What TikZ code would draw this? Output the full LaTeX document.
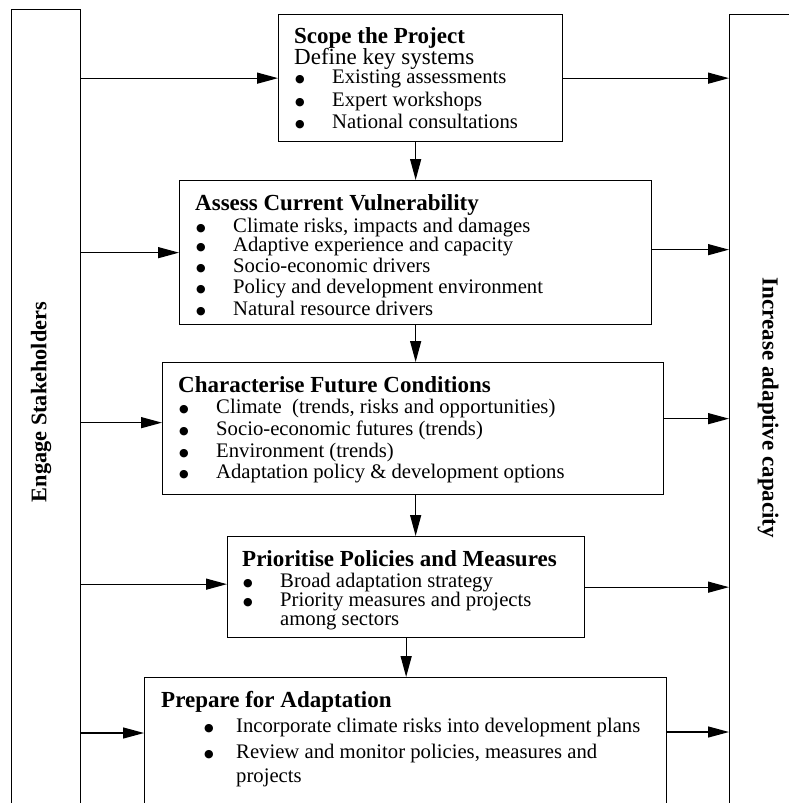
\documentclass[tikz,border=0pt]{standalone}
\usepackage{fontspec}
\setmainfont{Liberation Serif}
\newfontfamily\symfont{DejaVu Sans}
\usetikzlibrary{arrows.meta}
\newcommand\bulmark[1]{\makebox[#1][l]{\hspace{1pt}\raisebox{0.9pt}{\fontsize{11}{13}\symfont ●}}}
\begin{document}
\begin{tikzpicture}[x=1pt,y=-1pt,
  box/.style={draw, line width=1.3pt, rectangle, inner sep=0pt, anchor=north west},
  arr/.style={line width=1.3pt, -{Triangle[length=21pt,width=11pt]}},
  tt/.style={anchor=base west, inner sep=0pt, text height=15pt, text depth=3pt, font=\fontsize{23}{25}\selectfont\bfseries},
  side/.style={anchor=center, inner sep=0pt, font=\fontsize{22.3}{25}\selectfont\bfseries},
  df/.style={anchor=base west, inner sep=0pt, text height=15pt, text depth=4pt, font=\fontsize{23}{25}\selectfont},
  it/.style={anchor=base west, inner sep=0pt, text height=13pt, text depth=3pt, font=\fontsize{20.7}{23}\selectfont},
]
\useasboundingbox (0,0) rectangle (789,803);
\clip (0,0) rectangle (789,803);

% side bars
\node[box, minimum width=69pt, minimum height=840pt] (L) at (11,9) {};
\node[box, minimum width=100pt, minimum height=840pt] (R) at (729,14) {};
\node[side, rotate=90] (Llab) at (41,402) {Engage Stakeholders};
\node[side, rotate=-90, font=\fontsize{23}{25}\selectfont\bfseries] (Rlab) at (768,408) {Increase adaptive capacity};

% boxes
\node[box, minimum width=284pt, minimum height=127pt] (b1) at (278,14) {};
\node[box, minimum width=472pt, minimum height=144pt] (b2) at (179,180) {};
\node[box, minimum width=501pt, minimum height=132pt] (b3) at (162,362) {};
\node[box, minimum width=357pt, minimum height=101pt] (b4) at (227,536) {};
\node[box, minimum width=522pt, minimum height=200pt] (b5) at (144,677) {};

% box 1 text
\node[tt] (t1) at (294,43.5) {Scope the Project};
\node[df] (t1d) at (294,64.5) {Define key systems};
\node[it] (t1i1) at (294,83.5) {\bulmark{38pt}Existing assessments};
\node[it] (t1i2) at (294,106) {\bulmark{38pt}Expert workshops};
\node[it] (t1i3) at (294,128) {\bulmark{38pt}National consultations};

% box 2 text
\node[tt] (t2) at (195,210) {Assess Current Vulnerability};
\node[it] (t2i1) at (195,232) {\bulmark{38pt}Climate risks, impacts and damages};
\node[it] (t2i2) at (195,251) {\bulmark{38pt}Adaptive experience and capacity};
\node[it] (t2i3) at (195,272) {\bulmark{38pt}Socio-economic drivers};
\node[it] (t2i4) at (195,293) {\bulmark{38pt}Policy and development environment};
\node[it] (t2i5) at (195,315) {\bulmark{38pt}Natural resource drivers};

% box 3 text
\node[tt] (t3) at (178,392) {Characterise Future Conditions};
\node[it] (t3i1) at (178,413) {\bulmark{38pt}Climate\ \ (trends, risks and opportunities)};
\node[it] (t3i2) at (178,435) {\bulmark{38pt}Socio-economic futures (trends)};
\node[it] (t3i3) at (178,457) {\bulmark{38pt}Environment (trends)};
\node[it] (t3i4) at (178,478) {\bulmark{38pt}Adaptation policy \& development options};

% box 4 text
\node[tt] (t4) at (242,566) {Prioritise Policies and Measures};
\node[it] (t4i1) at (242,587) {\bulmark{38pt}Broad adaptation strategy};
\node[it, text height=12pt, text depth=2pt] (t4i2) at (242,606) {\bulmark{38pt}Priority measures and projects};
\node[it, text height=10pt] (t4i3) at (280,625) {among sectors};

% box 5 text
\node[tt] (t5) at (161,707) {Prepare for Adaptation};
\node[it] (t5i1) at (203,732) {\bulmark{33pt}Incorporate climate risks into development plans};
\node[it] (t5i2) at (203,758) {\bulmark{33pt}Review and monitor policies, measures and};
\node[it] (t5i3) at (236,782) {projects};

% vertical arrows
\draw[arr] (b2.north |- b1.south) -- (b2.north);
\draw[arr] (b2.south) -- (b2.south |- b3.north);
\draw[arr] ([xshift=2.5pt]b3.south) -- ([xshift=2.5pt]b3.south |- b4.north);
\draw[arr] (b4.south) -- (b4.south |- b5.north);

% left arrows
\draw[arr] (b1.west -| L.east) -- (b1.west);
\draw[arr] (b2.west -| L.east) -- (b2.west);
\draw[arr] ([yshift=6pt]b3.west -| L.east) -- ([yshift=6pt]b3.west);
\draw[arr] ([yshift=3pt]b4.west -| L.east) -- ([yshift=3pt]b4.west);
\draw[arr] ([yshift=-56pt]b5.north west -| L.east) -- ([yshift=-56pt]b5.north west);

% right arrows
\draw[arr] (b1.east) -- (b1.east -| R.west);
\draw[arr] ([yshift=3pt]b2.east) -- ([yshift=3pt]b2.east -| R.west);
\draw[arr] ([yshift=10pt]b3.east) -- ([yshift=10pt]b3.east -| R.west);
\draw[arr] (b4.east) -- (b4.east -| R.west);
\draw[arr] ([yshift=-55pt]b5.north east) -- ([yshift=-55pt]b5.north east -| R.west);
\end{tikzpicture}
\end{document}
